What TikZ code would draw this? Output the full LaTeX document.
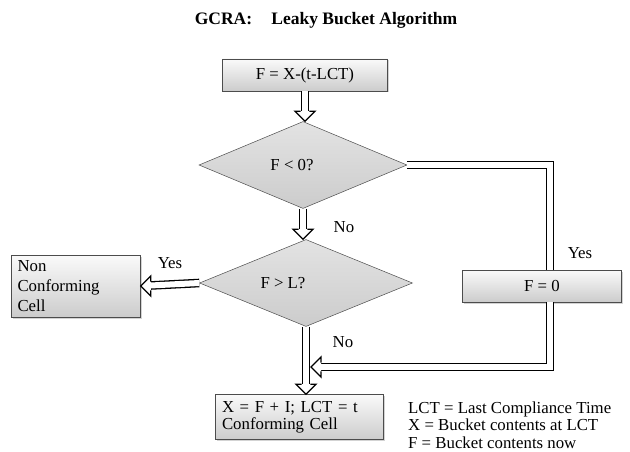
\documentclass[tikz,border=0pt]{standalone}
\usepackage{fontspec}
\setmainfont{Liberation Serif}
\usetikzlibrary{shapes.geometric,shadows}
\tikzset{
  box/.style={draw=gray!60!black, line width=0.5pt, top color=gray!4, bottom color=gray!40,
    drop shadow={opacity=0.35, shadow xshift=1.5pt, shadow yshift=-1.5pt}, inner sep=0pt},
  cond/.style={diamond, draw=gray!60!black, line width=0.5pt, top color=gray!22, bottom color=gray!40, inner sep=0pt},
  hollow/.style={draw=black, line width=1.3pt, double=white, double distance=6pt},
  blockhead/.pic={
    \draw[line width=1.3pt, fill=white, line join=miter] (-10,4.3) -- (-10,10) -- (0,0) -- (-10,-10) -- (-10,-4.3);
  }
}
\begin{document}
\begin{tikzpicture}[x=1pt, y=-1pt, line join=miter, font=\fontsize{16.8}{17.5}\selectfont]
	\useasboundingbox (0,0) rectangle (630,452);
	\node[font=\fontsize{17.5}{20}\bfseries] (title) at (326,20) {GCRA:\hspace{1.1em}Leaky Bucket Algorithm};
	% boxes and tests
	\node[box, minimum width=165pt, minimum height=32pt] (calc) at (305,75) {F = X-(t-LCT)};
	\node[cond, minimum width=208pt, minimum height=87pt] (neg) at (303,165) {\hspace*{-22pt}F < 0?};
	\node[cond, minimum width=213pt, minimum height=87pt] (over) at (306,283) {\hspace*{-46pt}F > L?};
	\node[box, minimum width=129pt, minimum height=62pt, text width=117pt, align=left,
		font=\fontsize{16.8}{20}\selectfont] (nonconf) at (76,286) {Non\\Conforming\\Cell};
	\node[box, minimum width=159pt, minimum height=32pt] (zero) at (542,286) {F = 0};
	\node[box, minimum width=168pt, minimum height=45pt, text width=154pt, align=left] (conf) at (299,417) {X = F + I; LCT = t\\Conforming Cell};
	\node[anchor=west, align=left, inner sep=0pt] (legend) at (408,425) {LCT = Last Compliance Time\\X = Bucket contents at LCT\\F = Bucket contents now};
	% labels
	\node (no1) at (344,227) {No};
	\node (no2) at (343,342) {No};
	\node (yes1) at (580,253) {Yes};
	\node (yes2) at (170,263) {Yes};
	% connectors
	\coordinate (mrg) at (311,367);
	\draw[hollow, shorten >=10pt] (calc.south) -- (calc.south |- neg.north);
	\pic[rotate=-90] at (calc.south |- neg.north) {blockhead};
	\draw[hollow, shorten >=10pt] (neg.south) -- (neg.south |- over.north);
	\pic[rotate=-90] at (neg.south |- over.north) {blockhead};
	\draw[hollow] (neg.east) -| ([xshift=8pt]zero.north);
	\draw[hollow, shorten >=10pt] (over.west) -- (nonconf.east);
	\pic[rotate=180] at (nonconf.east) {blockhead};
	\draw[hollow, shorten >=10pt] (over.south) -- (over.south |- conf.north);
	\pic[rotate=-90] at (over.south |- conf.north) {blockhead};
	\draw[hollow, shorten >=10pt] ([xshift=8pt]zero.south) |- (mrg);
	\pic[rotate=180] at (mrg) {blockhead};
\end{tikzpicture}
\end{document}
